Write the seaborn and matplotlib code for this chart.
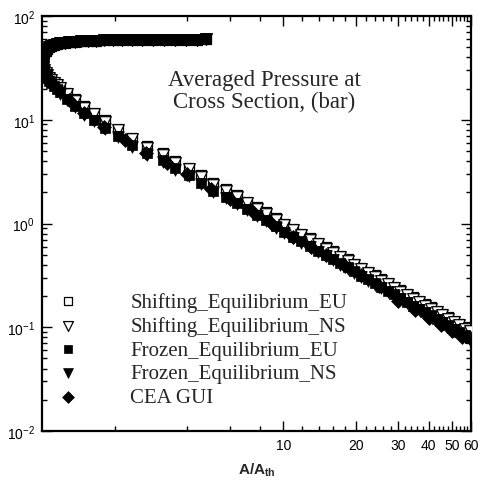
import numpy as np
import pandas as pd
import matplotlib
matplotlib.use("Agg")
import matplotlib.pyplot as plt
import matplotlib.ticker as mticker
import seaborn as sns

# --- data (area ratio vs averaged pressure, bar) ---
A_throat = [1.0]
p_throat_shift = [37.0]
p_throat_frozen = [36.5]

# subsonic (converging) branch, all models coincide here
A_sub = [1.005, 1.01, 1.02, 1.035, 1.05, 1.07, 1.09, 1.12, 1.15, 1.19, 1.24, 1.30, 1.37,
         1.45, 1.55, 1.67, 1.81, 1.97, 2.15, 2.36, 2.60, 2.88, 3.20, 3.56, 3.97, 4.40, 4.80]
p_sub = [39.5, 41.5, 44.0, 46.5, 48.3, 50.0, 51.3, 52.6, 53.6, 54.5, 55.3, 56.0, 56.6,
         57.1, 57.5, 57.9, 58.2, 58.4, 58.6, 58.8, 58.9, 59.0, 59.1, 59.2, 59.3, 59.3, 59.4]

# supersonic (diverging) branch
A_sup = [1.005, 1.01, 1.02, 1.035, 1.05, 1.07, 1.09, 1.12, 1.15, 1.19,
         1.27, 1.37, 1.49, 1.64, 1.82, 2.07, 2.37, 2.72, 3.17, 3.57, 4.06, 4.58, 5.13,
         5.77, 6.42, 7.07, 7.79, 8.49, 9.29,
         10.1, 11.0, 11.9, 12.9, 13.9, 15.0, 16.1, 17.2, 18.5, 19.7, 21.1, 22.5, 24.0,
         25.5, 27.2, 28.8, 30.6, 32.5, 34.4, 36.5, 38.6, 40.8, 43.2, 45.6, 48.2, 50.8,
         53.6, 56.5, 59.6]
p_shift_eu = [34.0, 32.5, 30.5, 28.5, 27.0, 25.5, 24.3, 23.0, 22.0, 20.8,
              18.2, 15.7, 13.5, 11.7, 9.9, 8.2, 6.7, 5.6, 4.8, 4.0, 3.45, 2.91, 2.44,
              2.14, 1.87, 1.62, 1.43, 1.28, 1.12,
              0.995, 0.89, 0.80, 0.72, 0.65, 0.59, 0.54, 0.49, 0.45, 0.41, 0.375, 0.344, 0.316,
              0.291, 0.268, 0.247, 0.229, 0.211, 0.195, 0.181, 0.168, 0.156, 0.145, 0.135, 0.125,
              0.116, 0.108, 0.101, 0.094]
p_shift_ns = [33.8, 32.2, 30.2, 28.2, 26.7, 25.1, 23.9, 22.5, 21.5, 20.2,
              17.6, 15.2, 13.0, 11.3, 9.6, 7.9, 6.5, 5.4, 4.6, 3.87, 3.33, 2.81, 2.36,
              2.07, 1.81, 1.57, 1.38, 1.24, 1.08,
              0.96, 0.86, 0.775, 0.695, 0.63, 0.57, 0.52, 0.475, 0.435, 0.396, 0.362, 0.332, 0.305,
              0.281, 0.259, 0.239, 0.221, 0.204, 0.189, 0.175, 0.162, 0.151, 0.140, 0.130, 0.121,
              0.112, 0.104, 0.097, 0.091]
p_frozen_eu = [33.6, 31.8, 29.5, 27.2, 25.5, 23.8, 22.4, 21.0, 19.8, 18.5,
               16.0, 13.7, 11.6, 10.0, 8.4, 7.0, 5.7, 4.77, 4.08, 3.40, 2.94, 2.48, 2.08,
               1.82, 1.59, 1.38, 1.22, 1.08, 0.94,
               0.837, 0.749, 0.673, 0.606, 0.547, 0.496, 0.454, 0.412, 0.378, 0.345, 0.315, 0.289, 0.266,
               0.245, 0.225, 0.208, 0.193, 0.176, 0.162, 0.151, 0.140, 0.130, 0.121, 0.112, 0.104,
               0.0965, 0.090, 0.084, 0.078]
p_frozen_ns = [33.4, 31.5, 29.1, 26.8, 25.0, 23.2, 21.8, 20.3, 19.1, 17.9,
               15.5, 13.3, 11.2, 9.7, 8.15, 6.8, 5.5, 4.62, 3.95, 3.30, 2.85, 2.40, 2.02,
               1.77, 1.54, 1.34, 1.18, 1.05, 0.91,
               0.81, 0.727, 0.653, 0.588, 0.531, 0.481, 0.440, 0.400, 0.367, 0.335, 0.306, 0.280, 0.258,
               0.238, 0.218, 0.202, 0.187, 0.171, 0.157, 0.146, 0.136, 0.126, 0.117, 0.109, 0.101,
               0.094, 0.087, 0.081, 0.076]

# CEA GUI points
A_cea = [1.0, 1.05, 1.15, 1.3, 1.5, 1.8, 2.2, 2.7, 3.3, 4.0, 5.0, 6.0, 7.5, 9.0, 11, 13, 15,
         18, 21, 25, 30, 35, 40, 45, 50, 55, 60]
p_cea = [36.5, 25.5, 19.8, 15.5, 11.6, 8.6, 6.4, 4.8, 3.85, 3.0, 2.15, 1.74, 1.28, 0.99, 0.749,
         0.60, 0.496, 0.39, 0.317, 0.25, 0.181, 0.148, 0.124, 0.106, 0.092, 0.081, 0.077]

x_major = [10, 20, 30, 40, 50, 60]
x_minor = [2, 4, 6, 8, 12, 14, 16, 18, 22, 24, 26, 28, 32, 34, 36, 38, 42, 44, 46, 48,
           52, 54, 56, 58]

# --- build frames ---
def make_frame(p_throat, p_branch):
    return pd.DataFrame({
        "A": A_throat + A_sub + A_sup,
        "p": p_throat + p_sub + p_branch,
    })

df_shift_eu = make_frame(p_throat_shift, p_shift_eu)
df_shift_ns = make_frame(p_throat_shift, p_shift_ns)
df_frozen_eu = make_frame(p_throat_frozen, p_frozen_eu)
df_frozen_ns = make_frame(p_throat_frozen, p_frozen_ns)
df_cea = pd.DataFrame({"A": A_cea, "p": p_cea})

# --- style ---
sns.set_style("ticks")
plt.rcParams['font.family'] = ['Liberation Sans', 'DejaVu Sans']
plt.rcParams['mathtext.fontset'] = 'custom'
plt.rcParams['mathtext.rm'] = 'Liberation Sans'
plt.rcParams['mathtext.bf'] = 'Liberation Sans:bold'
plt.rcParams['mathtext.it'] = 'Liberation Sans:italic'

fig = plt.figure(figsize=(4.84, 4.81), dpi=100)
ax = fig.add_axes([42 / 484, 1 - 432 / 481, 429 / 484, 415 / 481])

# open symbols first, filled ones drawn over them
ms = 58
sns.scatterplot(data=df_shift_eu, x="A", y="p", ax=ax, marker="s", s=ms, facecolor="white",
                edgecolor="black", linewidth=0.9, label="Shifting_Equilibrium_EU", zorder=3)
sns.scatterplot(data=df_shift_ns, x="A", y="p", ax=ax, marker="v", s=ms + 12, facecolor="white",
                edgecolor="black", linewidth=0.9, label="Shifting_Equilibrium_NS", zorder=4)
sns.scatterplot(data=df_frozen_eu, x="A", y="p", ax=ax, marker="s", s=ms, color="black",
                edgecolor="black", linewidth=0.5, label="Frozen_Equilibrium_EU", zorder=5)
sns.scatterplot(data=df_frozen_ns, x="A", y="p", ax=ax, marker="v", s=ms + 12, color="black",
                edgecolor="black", linewidth=0.5, label="Frozen_Equilibrium_NS", zorder=6)
sns.scatterplot(data=df_cea, x="A", y="p", ax=ax, marker="D", s=50, color="black",
                edgecolor="black", linewidth=0.5, label="CEA GUI", zorder=7)

ax.set_xscale("log")
ax.set_yscale("log")
ax.set_xlim(1, 60)
ax.set_ylim(1e-2, 1e2)

ax.xaxis.set_major_locator(mticker.FixedLocator(x_major))
ax.xaxis.set_major_formatter(mticker.FixedFormatter([str(v) for v in x_major]))
ax.xaxis.set_minor_locator(mticker.FixedLocator(x_minor))
ax.xaxis.set_minor_formatter(mticker.NullFormatter())
ax.yaxis.set_major_locator(mticker.LogLocator(base=10, numticks=10))
ax.yaxis.set_minor_locator(mticker.LogLocator(base=10, subs=np.arange(2, 10), numticks=20))
ax.yaxis.set_minor_formatter(mticker.NullFormatter())

ax.tick_params(which="both", direction="in", top=True, right=True, width=1.0,
               labelsize=10, colors="black", pad=5)
ax.tick_params(which="major", length=7)
ax.tick_params(which="minor", length=3.5)
for s in ax.spines.values():
    s.set_linewidth(1.6)
    s.set_color("black")

ax.set_xlabel(r"$\mathbf{A/A_{th}}$", fontsize=11, labelpad=6)
ax.set_ylabel("")

ax.text(0.518, 0.82, "Averaged Pressure at\nCross Section, (bar)", transform=ax.transAxes,
        ha="center", va="center", fontsize=16.5, family="Liberation Serif", linespacing=1.05)

handles, labels = ax.get_legend_handles_labels()
order = ["Shifting_Equilibrium_EU", "Shifting_Equilibrium_NS", "Frozen_Equilibrium_EU",
         "Frozen_Equilibrium_NS", "CEA GUI"]
hmap = dict(zip(labels, handles))
leg = ax.legend([hmap[k] for k in order], order, loc="upper left",
                bbox_to_anchor=(0.013, 0.36), frameon=False, borderpad=0,
                handlelength=1.0, handletextpad=2.48, labelspacing=0.2, markerscale=0.85,
                prop={"family": "Liberation Serif", "size": 15})

fig.savefig("out.png", dpi=100)
